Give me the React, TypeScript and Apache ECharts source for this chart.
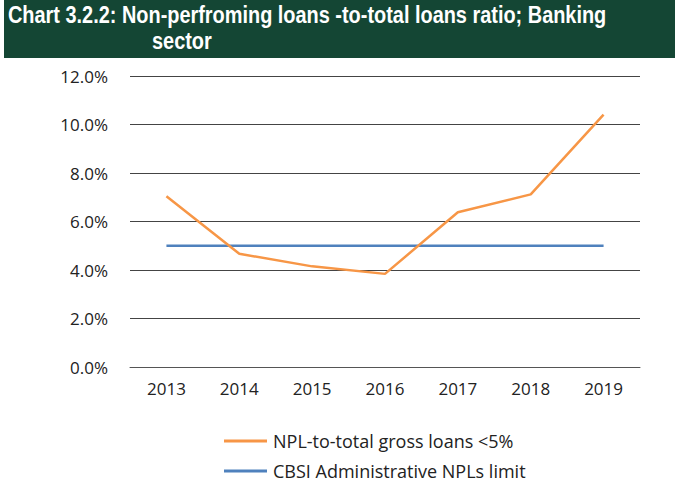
import React, { useEffect, useRef } from "react";
import * as echarts from "echarts";

const years = ["2013", "2014", "2015", "2016", "2017", "2018", "2019"];
const nplRatio = [7.04, 4.67, 4.15, 3.84, 6.38, 7.12, 10.41];
const cbsiLimit = [5, 5, 5, 5, 5, 5, 5];
const seriesNames = ["NPL-to-total gross loans <5%", "CBSI Administrative NPLs limit"];
const titleLine1 = "Chart 3.2.2: Non-perfroming loans -to-total loans ratio; Banking";
const titleLine2 = "sector";

export default function App() {
  const ref = useRef<HTMLDivElement>(null);
  useEffect(() => {
    const chart = echarts.init(ref.current!, null, { renderer: "svg" });
    const font = "'Open Sans', 'Noto Sans', sans-serif";
    const titleFont = "bold 23px 'Liberation Sans', Arial, sans-serif";
    chart.setOption({
      animation: false,
      backgroundColor: "#ffffff",
      graphic: [
        { type: "rect", left: 4, top: 0, shape: { width: 671, height: 58 }, style: { fill: "#144634" } },
        {
          type: "text", x: 8, y: 4, scaleX: 0.866,
          style: { text: titleLine1, fill: "#ffffff", font: titleFont },
        },
        {
          type: "text", x: 152, y: 30, scaleX: 0.866,
          style: { text: titleLine2, fill: "#ffffff", font: titleFont },
        },
      ],
      grid: { left: 130, right: 45, top: 76, bottom: 119 },
      xAxis: {
        type: "category",
        data: years,
        boundaryGap: true,
        axisLine: { show: true, lineStyle: { color: "#555", width: 1 } },
        axisTick: { show: false },
        axisLabel: { color: "#222", fontSize: 17, fontFamily: font, margin: 13 },
      },
      yAxis: {
        type: "value",
        min: 0, max: 12, interval: 2,
        axisLine: { show: false },
        axisTick: { show: false },
        splitLine: { lineStyle: { color: "#444", width: 1 } },
        axisLabel: { color: "#222", fontSize: 17, fontFamily: font, margin: 22, formatter: (v: number) => v.toFixed(1) + "%" },
      },
      legend: {
        orient: "vertical",
        left: 219, top: 427,
        itemWidth: 43, itemHeight: 3, itemGap: 12,
        icon: "rect",
        textStyle: { color: "#222", fontSize: 18, fontFamily: font, padding: [0, 0, 0, 1] },
        data: seriesNames,
      },
      series: [
        {
          name: seriesNames[0], type: "line", data: nplRatio, showSymbol: false, symbol: "none",
          lineStyle: { color: "#F79646", width: 2.5 }, itemStyle: { color: "#F79646" }, z: 3,
        },
        {
          name: seriesNames[1], type: "line", data: cbsiLimit, showSymbol: false, symbol: "none",
          lineStyle: { color: "#4F81BD", width: 2.5 }, itemStyle: { color: "#4F81BD" }, z: 2,
        },
      ],
    });
    return () => chart.dispose();
  }, []);
  return <div ref={ref} style={{ position: "fixed", left: 0, top: 0, width: 685, height: 486 }} />;
}
